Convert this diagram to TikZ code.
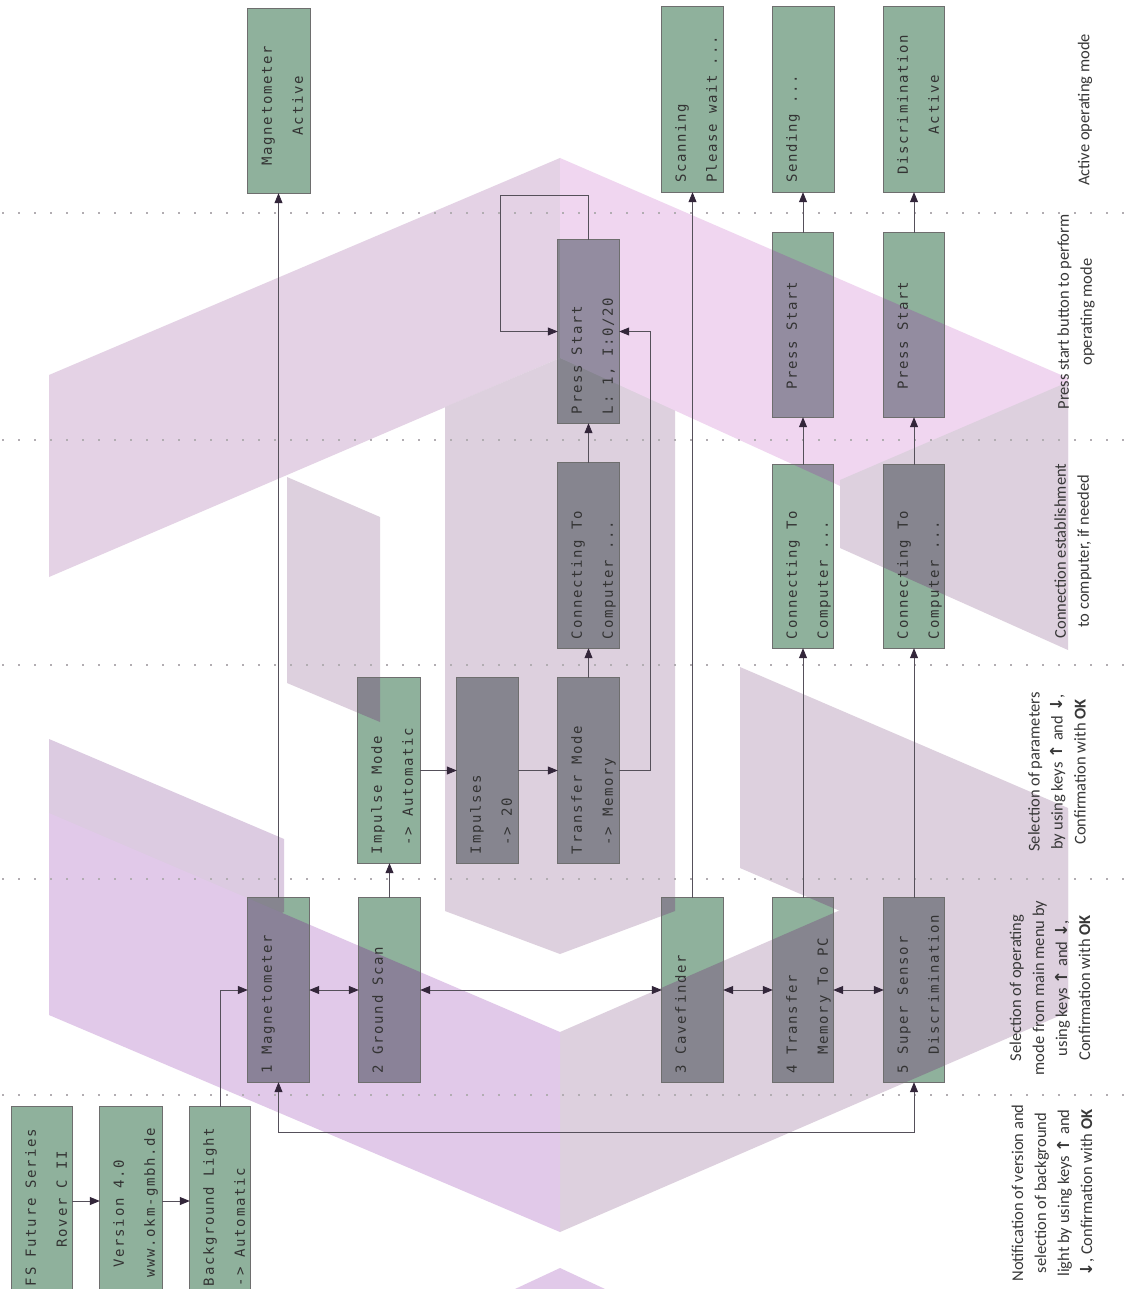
\documentclass[tikz,border=0pt]{standalone}
\usepackage{fontspec}
\usetikzlibrary{arrows.meta,calc}
\newfontfamily\lcdfont[LetterSpace=12]{DejaVu Sans Mono}
\newfontfamily\labfont{Carlito}
\newfontfamily\symfont{DejaVu Sans}
\definecolor{boxgreen}{HTML}{8FB19C}
\definecolor{boxline}{HTML}{6E6E6E}
\definecolor{lcdtext}{HTML}{333333}
\definecolor{labc}{HTML}{383838}
\definecolor{linec}{HTML}{55505A}
\definecolor{tipc}{HTML}{33263A}
\definecolor{dotc}{HTML}{B2ADB2}
\definecolor{lilacF}{HTML}{DDD0DE}
\definecolor{ulF}{HTML}{E4D2E5}
\definecolor{pinkF}{HTML}{F0D6F0}
\definecolor{lavF}{HTML}{E1C9E9}
\definecolor{lltF}{HTML}{DCCBE1}
\definecolor{covLilac}{HTML}{86858F}
\definecolor{covPink}{HTML}{938CA0}
\definecolor{covLav}{HTML}{8A8298}
\newcommand\keyup{{\symfont\bfseries ↑}}
\newcommand\keydown{{\symfont\bfseries ↓}}
\newcommand\lcdbox[5]{\node[lcd, minimum width={(#3-#2)*1pt}, minimum height={(#5-#4)*1pt}] (#1) at ({(#2+#3)/2},{(#4+#5)/2}) {};}
\newcommand\lcdline[4]{\node[lcdtxt] (#1) at ($(#2.south west)+(#3,-9)$) {#4};}
\def\shUL{(49,375) -- (560,158) -- (560,358) -- (49,577) -- cycle}
\def\shUR{(560,158) -- (1068,378) -- (1068,590) -- (560,358) -- cycle}
\def\shLL{(49,813) -- (560,1032) -- (560,1232) -- (49,1015) -- cycle}
\def\shLR{(560,1032) -- (1068,811) -- (1068,1012) -- (560,1232) -- cycle}
\def\shBar{(445,407) -- (560,358) -- (675,407) -- (675,911) -- (560,954) -- (445,911) -- cycle}
\def\shLp{(287,477) -- (380,517) -- (380,722) -- (287,683) -- cycle}
\def\shURt{(840,480) -- (1068,382) -- (1068,650) -- (840,548) -- cycle}
\def\shLRt{(740,667) -- (1068,808) -- (1068,1009) -- (740,868) -- cycle}
\def\shLLt{(49,739) -- (284,839) -- (284,912) -- (49,1008) -- cycle}
\def\shBot{(515,1289) -- (560,1268) -- (605,1289) -- cycle}
\def\boxlist{fs,ver,bgl,mag,gs,cave,trans,sup,imp,imps,tm,conA,conB,conC,psA,psB,psC,magA,scan,send,disA}
\newcommand\coverwith[2]{\begin{scope}\clip #1; \foreach \n in \boxlist \fill[#2] (\n.south west) rectangle (\n.north east); \end{scope}}
\begin{document}
\begin{tikzpicture}[x=1pt,y=-1pt,
  lcd/.style={rectangle, inner sep=0pt, fill=boxgreen, draw=none},
  lcdtxt/.style={rotate=90, anchor=base west, inner sep=0pt, font=\lcdfont\fontsize{14}{14}\selectfont, text=lcdtext},
  lab/.style={rotate=90, align=center, inner sep=0pt, font=\labfont\fontsize{16.5}{23}\selectfont, text=labc},
  arr/.style={draw=linec, line width=0.8pt, -{Triangle[length=10pt,width=8pt,color=tipc]}},
  darr/.style={draw=linec, line width=0.8pt, {Triangle[length=10pt,width=8pt,color=tipc]}-{Triangle[length=10pt,width=8pt,color=tipc]}},
  sep/.style={draw=dotc, line width=1.8pt, dash pattern=on 1.8pt off 14.2pt}
]
\useasboundingbox (0,0) rectangle (1126,1289);
\fill[white] (0,0) rectangle (1126,1289);
% background logo (flat watermark)
\fill[ulF] \shUL;
\fill[lilacF] \shLp;
\fill[lilacF] \shBar;
\fill[pinkF] \shUR;
\fill[lilacF] \shURt;
\fill[lilacF] \shLR;
\fill[lilacF] \shLRt;
\fill[lltF] \shLLt;
\fill[lavF] \shLL;
\fill[lavF] \shBot;
% separators
\foreach \yy in {213,440,665,879,1095} \draw[sep] (2,\yy) -- (1126,\yy);
% boxes
\lcdbox{fs}{12}{72}{1107}{1295}
\lcdbox{ver}{100}{162}{1107}{1295}
\lcdbox{bgl}{190}{250}{1107}{1295}
\lcdbox{mag}{248}{309}{898}{1082}
\lcdbox{gs}{359}{420}{898}{1082}
\lcdbox{cave}{662}{723}{898}{1082}
\lcdbox{trans}{773}{833}{898}{1082}
\lcdbox{sup}{884}{944}{898}{1082}
\lcdbox{imp}{358}{420}{678}{863}
\lcdbox{imps}{457}{518}{678}{863}
\lcdbox{tm}{558}{619}{678}{863}
\lcdbox{conA}{558}{619}{463}{648}
\lcdbox{conB}{773}{833}{465}{648}
\lcdbox{conC}{884}{944}{465}{648}
\lcdbox{psA}{558}{619}{240}{423}
\lcdbox{psB}{773}{833}{233}{417}
\lcdbox{psC}{884}{944}{233}{417}
\lcdbox{magA}{248}{310}{9}{193}
\lcdbox{scan}{662}{723}{7}{192}
\lcdbox{send}{773}{834}{7}{192}
\lcdbox{disA}{884}{944}{7}{192}
% parts of the boxes seen through the watermark
\coverwith{\shUL}{covLilac}
\coverwith{\shLp}{covLilac}
\coverwith{\shBar}{covLilac}
\coverwith{\shUR}{covPink}
\coverwith{\shURt}{covLilac}
\coverwith{\shLR}{covLilac}
\coverwith{\shLRt}{covLilac}
\coverwith{\shLLt}{covLilac}
\coverwith{\shLL}{covLav}
\foreach \n in \boxlist \draw[boxline, line width=0.8pt] (\n.south west) rectangle (\n.north east);
% box texts
\lcdline{fsT1}{fs}{24}{FS Future Series}
\lcdline{fsT2}{fs}{55}{\hphantom{0000}Rover C II}
\lcdline{verT1}{ver}{24}{\hphantom{00}Version 4.0}
\lcdline{verT2}{ver}{55}{\hphantom{0}www.okm-gmbh.de}
\lcdline{bglT1}{bgl}{24}{Background Light}
\lcdline{bglT2}{bgl}{55}{-> Automatic}
\lcdline{magT1}{mag}{24}{1 Magnetometer}
\lcdline{gsT1}{gs}{24}{2 Ground Scan}
\lcdline{caveT1}{cave}{24}{3 Cavefinder}
\lcdline{transT1}{trans}{24}{4 Transfer}
\lcdline{transT2}{trans}{55}{\hphantom{00}Memory To PC}
\lcdline{supT1}{sup}{24}{5 Super Sensor}
\lcdline{supT2}{sup}{55}{\hphantom{00}Discrimination}
\lcdline{impT1}{imp}{24}{Impulse Mode}
\lcdline{impT2}{imp}{55}{\hphantom{0}-> Automatic}
\lcdline{impsT1}{imps}{24}{Impulses}
\lcdline{impsT2}{imps}{55}{\hphantom{0}-> 20}
\lcdline{tmT1}{tm}{24}{Transfer Mode}
\lcdline{tmT2}{tm}{55}{\hphantom{0}-> Memory}
\lcdline{conAT1}{conA}{24}{Connecting To}
\lcdline{conAT2}{conA}{55}{Computer ...}
\lcdline{conBT1}{conB}{24}{Connecting To}
\lcdline{conBT2}{conB}{55}{Computer ...}
\lcdline{conCT1}{conC}{24}{Connecting To}
\lcdline{conCT2}{conC}{55}{Computer ...}
\lcdline{psAT1}{psA}{24}{Press Start}
\lcdline{psAT2}{psA}{55}{L: 1, I:0/20}
\lcdline{psBT1}{psB}{24}{\hphantom{00}Press Start}
\lcdline{psCT1}{psC}{24}{\hphantom{00}Press Start}
\lcdline{magAT1}{magA}{24}{\hphantom{00}Magnetometer}
\lcdline{magAT2}{magA}{55}{\hphantom{00000}Active}
\lcdline{scanT1}{scan}{24}{Scanning}
\lcdline{scanT2}{scan}{55}{Please wait ...}
\lcdline{sendT1}{send}{24}{Sending ...}
\lcdline{disAT1}{disA}{24}{\hphantom{0}Discrimination}
\lcdline{disAT2}{disA}{55}{\hphantom{00000}Active}
% connectors
\draw[arr] (fs) -- (ver);
\draw[arr] (ver) -- (bgl);
\draw[arr] (bgl.north) |- (mag.west);
\draw[arr] (mag.north) -- (mag.north |- magA.south);
\draw[darr] (mag) -- (gs);
\draw[darr] (gs) -- (cave);
\draw[darr] (cave) -- (trans);
\draw[darr] (trans) -- (sup);
\draw[arr] (gs.north) -- (gs.north |- imp.south);
\draw[arr] (imp) -- (imps);
\draw[arr] (imps) -- (tm);
\draw[arr] (tm.north) -- (tm.north |- conA.south);
\draw[arr] (conA.north) -- (conA.north |- psA.south);
\draw[arr] (tm.east) -- ++(31,0) |- (psA.east);
\coordinate (loopA) at (500,195);
\draw[arr] (psA.north) |- (loopA) |- (psA.west);
\draw[arr] (cave.north) -- (cave.north |- scan.south);
\draw[arr] (trans.north) -- (trans.north |- conB.south);
\draw[arr] (conB.north) -- (conB.north |- psB.south);
\draw[arr] (psB.north) -- (psB.north |- send.south);
\draw[arr] (sup.north) -- (sup.north |- conC.south);
\draw[arr] (conC.north) -- (conC.north |- psC.south);
\draw[arr] (psC.north) -- (psC.north |- disA.south);
\coordinate (loopB) at (0,1132);
\draw[darr] (mag.south) -- (mag.south |- loopB) -| (sup.south);
% column labels
\node[lab] (labA) at (1053,1193) {Notification of version and\\selection of background\\light by using keys \keyup{} and\\\keydown, Confirmation with \textbf{OK}};
\node[lab] (labB) at (1050,988) {Selection of operating\\mode from main menu by\\using keys \keyup{} and \keydown,\\Confirmation with \textbf{OK}};
\node[lab] (labC) at (1057,772) {Selection of parameters\\by using keys \keyup{} and \keydown,\\Confirmation with \textbf{OK}};
\node[lab] (labD) at (1073,551) {Connection establishment\\to computer, if needed};
\node[lab] (labE) at (1076,312) {Press start button to perform\\operating mode};
\node[lab] (labF) at (1085,110) {Active operating mode};
\end{tikzpicture}
\end{document}
